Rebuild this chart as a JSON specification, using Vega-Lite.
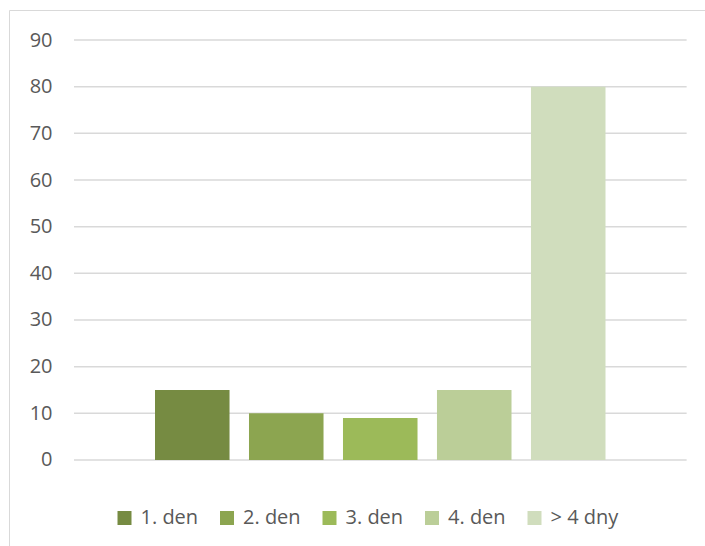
{
  "$schema": "https://vega.github.io/schema/vega-lite/v6.json",
  "width": 696,
  "height": 536,
  "autosize": {"type": "none"},
  "padding": {"left": 9, "top": 10, "right": 0, "bottom": 0},
  "background": "white",
  "config": {"view": {"stroke": "#d9d9d9", "strokeWidth": 1}, "font": "Open Sans"},
  "datasets": {
    "bars": [
      {"series": "1. den", "value": 15},
      {"series": "2. den", "value": 10},
      {"series": "3. den", "value": 9},
      {"series": "4. den", "value": 15},
      {"series": "> 4 dny", "value": 80}
    ],
    "grid": [{"v": 0}, {"v": 10}, {"v": 20}, {"v": 30}, {"v": 40}, {"v": 50}, {"v": 60}, {"v": 70}, {"v": 80}, {"v": 90}]
  },
  "layer": [
    {
      "data": {"name": "grid"},
      "mark": {"type": "rule", "color": "#d9d9d9", "strokeWidth": 1.5},
      "encoding": {
        "y": {
          "field": "v", "type": "quantitative",
          "scale": {"domain": [-18.43, 96.43], "nice": false, "zero": false},
          "axis": {"values": [0, 10, 20, 30, 40, 50, 60, 70, 80, 90], "grid": false, "domain": false, "ticks": false, "labelPadding": 0, "offset": -43, "title": null, "labelFontSize": 20, "labelColor": "#595959", "labelFont": "Open Sans"}
        },
        "x": {"datum": 0, "type": "quantitative", "scale": {"domain": [-0.1061, 1.03], "nice": false, "zero": false}, "axis": null},
        "x2": {"datum": 1}
      }
    },
    {
      "data": {"name": "bars"},
      "mark": {"type": "bar"},
      "encoding": {
        "x": {
          "field": "series", "type": "nominal", "sort": null,
          "scale": {"domain": ["1. den", "2. den", "3. den", "4. den", "> 4 dny"], "range": [146, 596.5], "paddingInner": 0.207, "paddingOuter": 0},
          "axis": null
        },
        "y": {
          "field": "value", "type": "quantitative",
          "axis": {"values": [0, 10, 20, 30, 40, 50, 60, 70, 80, 90], "grid": false, "domain": false, "ticks": false, "labelPadding": 0, "offset": -43, "title": null, "labelFontSize": 20, "labelColor": "#595959", "labelFont": "Open Sans"}
        },
        "y2": {"datum": 0},
        "color": {
          "field": "series", "type": "nominal",
          "scale": {"domain": ["1. den", "2. den", "3. den", "4. den", "> 4 dny"], "range": ["#768B42", "#8CA550", "#9CBA59", "#BBCE98", "#D0DDBD"]},
          "legend": {"orient": "none", "legendX": 105.5, "legendY": 498, "direction": "horizontal", "title": null, "symbolType": "square", "symbolSize": 196, "symbolStrokeWidth": 0, "labelFontSize": 20, "labelColor": "#595959", "labelFont": "Open Sans", "labelOffset": 6, "columnPadding": 18.5}
        }
      }
    }
  ],
  "resolve": {"scale": {"x": "independent"}}
}
